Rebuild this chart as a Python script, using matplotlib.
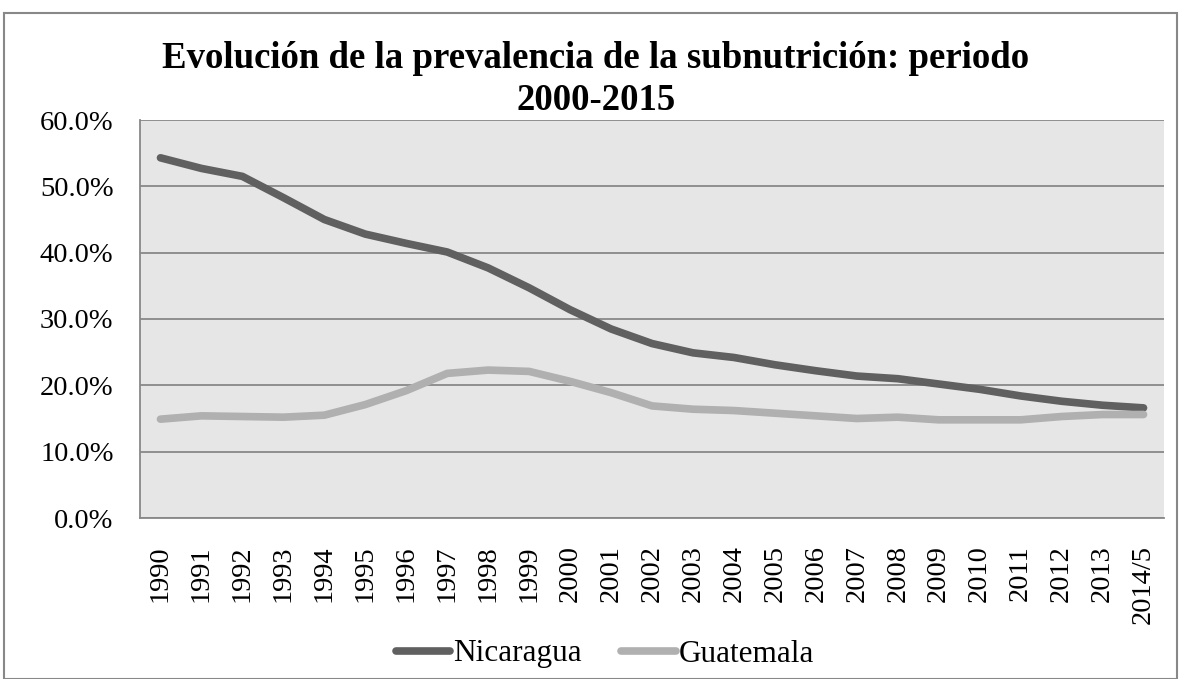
import numpy as np
import matplotlib.pyplot as plt
from matplotlib.patches import Rectangle

# Datos (prevalencia de la subnutrición, %)
years = ['1990', '1991', '1992', '1993', '1994', '1995', '1996', '1997', '1998', '1999',
         '2000', '2001', '2002', '2003', '2004', '2005', '2006', '2007', '2008', '2009',
         '2010', '2011', '2012', '2013', '2014/5']
nicaragua = [54.3, 52.7, 51.5, 48.3, 45.0, 42.8, 41.4, 40.1, 37.7, 34.7,
             31.4, 28.5, 26.3, 24.9, 24.2, 23.1, 22.2, 21.4, 21.0, 20.2,
             19.4, 18.4, 17.6, 17.0, 16.6]
guatemala = [14.9, 15.4, 15.3, 15.2, 15.5, 17.1, 19.2, 21.8, 22.3, 22.1,
             20.6, 18.9, 16.9, 16.4, 16.2, 15.8, 15.4, 15.0, 15.2, 14.8,
             14.8, 14.8, 15.3, 15.6, 15.6]

plt.rcParams['font.family'] = ['Liberation Serif', 'DejaVu Serif']

fig = plt.figure(figsize=(11.81, 6.79), dpi=100)
ax = fig.add_axes([140 / 1181, 1 - 518 / 679, 1024 / 1181, 398 / 679])

x = np.arange(len(years))
ax.plot(x, nicaragua, color='#606060', linewidth=5.5, solid_capstyle='round',
        solid_joinstyle='round', label='Nicaragua')
ax.plot(x, guatemala, color='#b0b0b0', linewidth=5.5, solid_capstyle='round',
        solid_joinstyle='round', label='Guatemala')

ax.set_facecolor('#e6e6e6')
ax.set_xlim(-0.5, len(years) - 0.5)
ax.set_ylim(0, 60)
ax.set_yticks(np.arange(0, 61, 10))
ax.set_yticklabels([f'{v:.1f}%' for v in np.arange(0, 61, 10)], fontsize=20.5)
ax.set_xticks(x)
ax.set_xticklabels(years, rotation=90, fontsize=20.5, va='top')
ax.tick_params(axis='both', length=0)
ax.tick_params(axis='x', pad=19.5)
ax.tick_params(axis='y', pad=19)
ax.grid(axis='y', color='#888888', linewidth=1.3)
ax.set_axisbelow(True)
for side in ['top', 'right']:
    ax.spines[side].set_visible(False)
for side in ['left', 'bottom']:
    ax.spines[side].set_color('#888888')
    ax.spines[side].set_linewidth(1.3)

fig.text(596 / 1181, 1 - 58 / 679, 'Evolución de la prevalencia de la subnutrición: periodo',
         ha='center', va='center', fontsize=26.5, fontweight='bold')
fig.text(596 / 1181, 1 - 101 / 679, '2000-2015', ha='center', va='center',
         fontsize=26.5, fontweight='bold')

fig.legend(loc='center', bbox_to_anchor=(605 / 1181, 1 - 654 / 679), ncol=2,
           frameon=False, fontsize=22.5, handlelength=1.75, handletextpad=0.1,
           columnspacing=1.25)

# marco exterior del gráfico
fig.patches.append(Rectangle((4 / 1181, 0), 1173 / 1181, 1 - 13 / 679,
                             transform=fig.transFigure, fill=False,
                             edgecolor='#888888', linewidth=1.5))

fig.savefig('out.png', dpi=100)
